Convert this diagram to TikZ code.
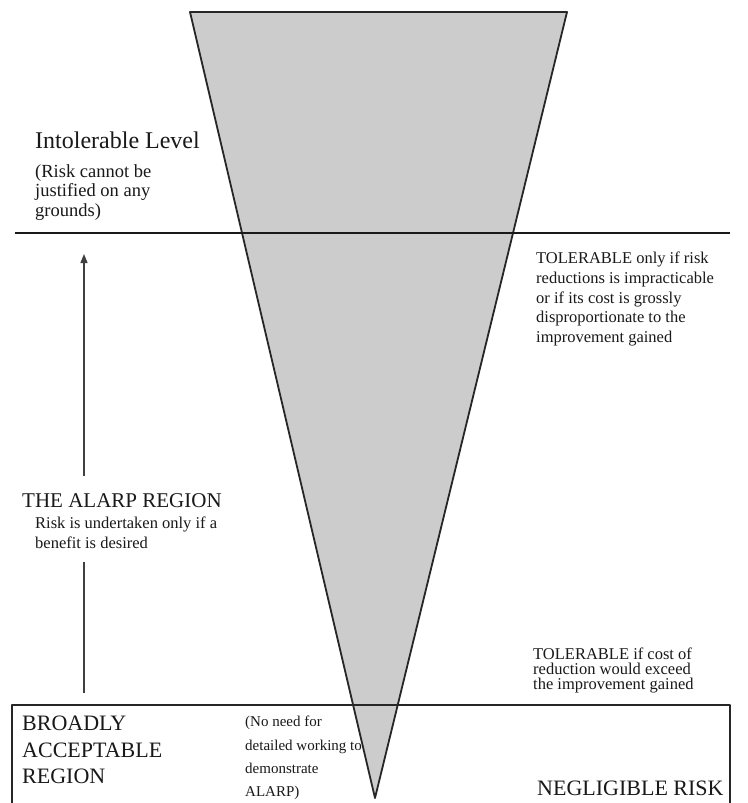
\documentclass[tikz,border=0pt]{standalone}
\usepackage{fontspec}
\setmainfont{Liberation Serif}
\usetikzlibrary{arrows.meta}
\definecolor{fillgray}{gray}{0.80}
\begin{document}
\begin{tikzpicture}[x=1pt,y=-1pt,
  txt/.style={inner sep=0pt,anchor=west,align=left,text=black!90},
  big/.style={txt,font=\fontsize{21}{27}\selectfont},
  note/.style={txt,font=\fontsize{16.5}{19.6}\selectfont},
  small/.style={txt,font=\fontsize{16.5}{15}\selectfont},
  outline/.style={draw=black!85,line width=1.8pt,line join=round},
  level/.style={draw=black!90,line width=2.8pt},
  arr/.style={draw=black!75,line width=1.3pt,-{Triangle[length=9pt,width=7pt]}},
  arrline/.style={draw=black!75,line width=1.3pt}]
\useasboundingbox (0,0) rectangle (747,803);
\clip (0,0) rectangle (747,803);
\fill[white] (0,0) rectangle (747,803);
% funnel
\draw[outline,fill=fillgray] (190,12) -- (567,12) -- (375,798) -- cycle;
% broadly acceptable box (bottom edge lies below the page)
\draw[outline] (12,830) -- (12,705) -- (730,705) -- (730,830);
% intolerable level line
\coordinate (lineL) at (15,233);
\coordinate (lineR) at (730,233);
\draw[level] (lineL) -- (lineR);
% arrow, interrupted by the ALARP label
\coordinate (arrS) at (84,693);
\coordinate (arrM1) at (84,562);
\coordinate (arrM2) at (84,476);
\coordinate (arrE) at (84,254);
\draw[arrline] (arrS) -- (arrM1);
\draw[arr] (arrM2) -- (arrE);
% texts
\node[txt,font=\fontsize{24}{28}\selectfont] (intol) at (35,140) {Intolerable Level};
\node[txt,font=\fontsize{18.5}{19.6}\selectfont] (intolnote) at (35,192.5) {(Risk cannot be\\justified on any\\grounds)};
\node[note] (tol1) at (536,299) {TOLERABLE only if risk\\reductions is impracticable\\or if its cost is grossly\\disproportionate to the\\improvement gained};
\node[big] (alarp) at (22,501) {THE ALARP REGION};
\node[note] (alarpnote) at (35,533) {Risk is undertaken only if a\\benefit is desired};
\node[small] (tol2) at (533,670) {TOLERABLE if cost of\\reduction would exceed\\the improvement gained};
\node[txt,font=\fontsize{22}{26.8}\selectfont] (broad) at (22,750) {BROADLY\\ACCEPTABLE\\REGION};
\node[txt,font=\fontsize{15}{23.3}\selectfont] (noneed) at (245,758) {(No need for\\detailed working to\\demonstrate\\ALARP)};
\node[txt,font=\fontsize{22}{26}\selectfont] (negl) at (537,788) {NEGLIGIBLE RISK};
\end{tikzpicture}
\end{document}
